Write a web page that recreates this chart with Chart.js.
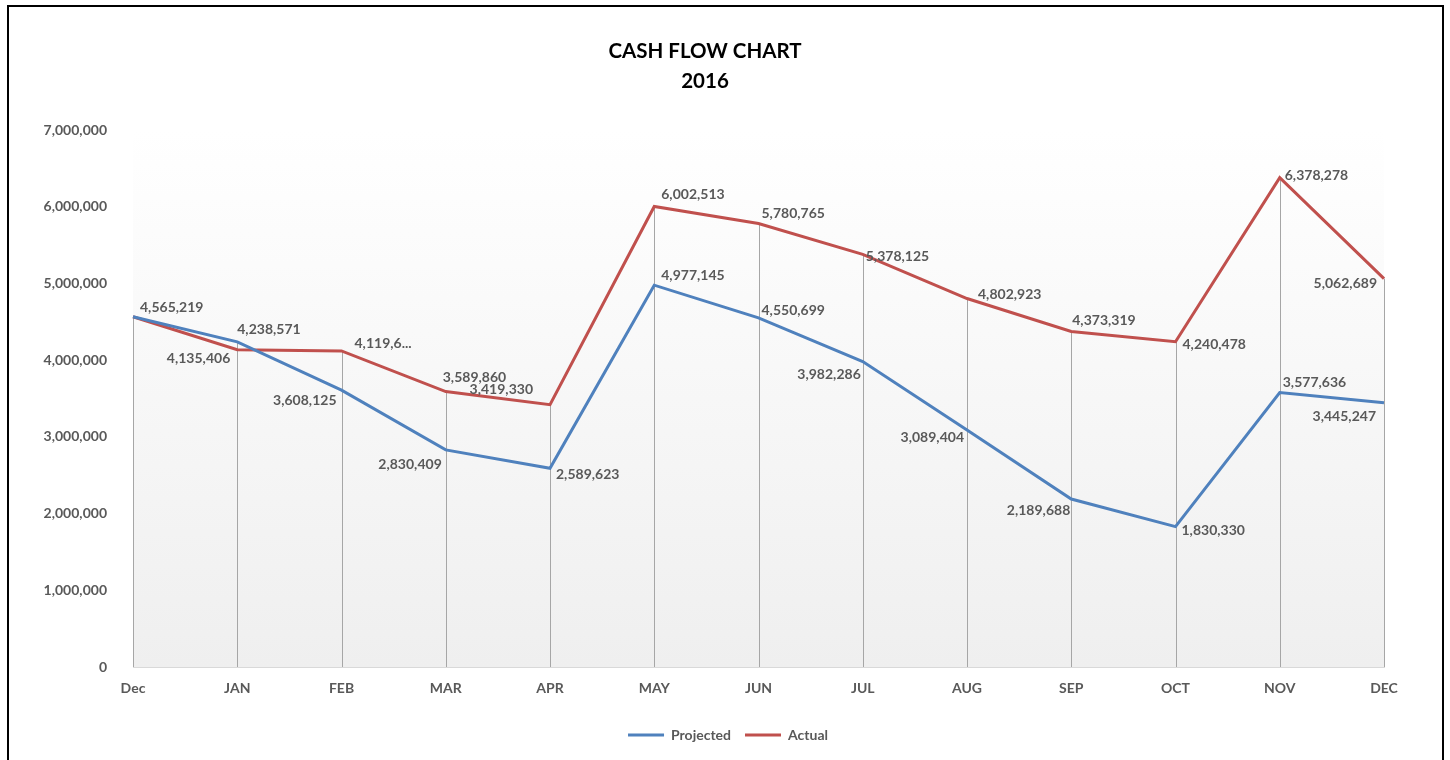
<!DOCTYPE html>
<html>
<head>
<meta charset="utf-8">
<script src="https://cdn.jsdelivr.net/npm/chart.js@4.4.1/dist/chart.umd.min.js"></script>
<style>
html, body { margin: 0; padding: 0; background: #fff; overflow: hidden; }
#wrap { position: relative; width: 1450px; height: 760px; }
#frame { position: absolute; left: 7px; top: 5px; width: 1437px; height: 820px; border: 2px solid #000; box-sizing: border-box; }
canvas { position: absolute; left: 0; top: 0; }
</style>
</head>
<body>
<div id="wrap">
  <div id="frame"></div>
  <canvas id="cashChart" width="1450" height="760"></canvas>
</div>
<script>
// data
var months = ['Dec', 'JAN', 'FEB', 'MAR', 'APR', 'MAY', 'JUN', 'JUL', 'AUG', 'SEP', 'OCT', 'NOV', 'DEC'];
var projected = [4565219, 4238571, 3608125, 2830409, 2589623, 4977145, 4550699, 3982286, 3089404, 2189688, 1830330, 3577636, 3445247];
var actual = [4565219, 4135406, 4119650, 3589860, 3419330, 6002513, 5780765, 5378125, 4802923, 4373319, 4240478, 6378278, 5062689];
var titleLines = ['CASH FLOW CHART', '2016'];

// label placement per point: [dx, dy, align, cut]; null = no label
var projectedLabelPos = [
    [7, -9, 'left'], [0, -12, 'left'], [-5, 10, 'right'], [-4, 15, 'right'], [6, 6, 'left'],
    [7, -10, 'left'], [3, -7, 'left'], [-2, 13, 'right'], [-3, 7, 'right'], [-1, 11, 'right'],
    [6, 4, 'left'], [3, -10, 'left'], [-8, 14, 'right']
];
var actualLabelPos = [
    null, [-7, 9, 'right'], [13, -7, 'left', 7], [-3, -14, 'left'], [-17, -15, 'right'],
    [7, -12, 'left'], [3, -10, 'left'], [3, 2, 'left'], [11, -4, 'left'], [1, -11, 'left'],
    [7, 3, 'left'], [5, -2, 'left'], [-7, 5, 'right']
];

var labelFont = 'bold 14px Lato';
var labelColor = '#595959';

function fmt(v) {
    return v.toLocaleString('en-US');
}

// plot area gradient fill
var plotBackground = {
    id: 'plotBackground',
    beforeDraw: function(chart) {
        var a = chart.chartArea, ctx = chart.ctx;
        var g = ctx.createLinearGradient(0, a.top, 0, a.bottom);
        g.addColorStop(0, '#ffffff');
        g.addColorStop(1, '#efefef');
        ctx.save();
        ctx.fillStyle = g;
        ctx.fillRect(a.left, a.top, a.right - a.left, a.bottom - a.top);
        ctx.restore();
    }
};

// legend sits a bit right of the centre in the original
var legendShift = {
    id: 'legendShift',
    afterLayout: function(chart) {
        chart.legend.left += 23;
        chart.legend.right += 23;
    }
};

// vertical drop lines from the highest point down to the axis
var dropLines = {
    id: 'dropLines',
    beforeDatasetsDraw: function(chart) {
        var ctx = chart.ctx, xs = chart.scales.x, ys = chart.scales.y;
        ctx.save();
        ctx.strokeStyle = '#a6a6a6';
        ctx.lineWidth = 1;
        months.forEach(function(m, i) {
            var px = Math.round(xs.getPixelForValue(i)) + 0.5;
            var top = Math.max(projected[i], actual[i]);
            ctx.beginPath();
            ctx.moveTo(px, ys.getPixelForValue(top));
            ctx.lineTo(px, chart.chartArea.bottom);
            ctx.stroke();
        });
        ctx.restore();
    }
};

// data labels
var pointLabels = {
    id: 'pointLabels',
    afterDatasetsDraw: function(chart) {
        var ctx = chart.ctx;
        var positions = [projectedLabelPos, actualLabelPos];
        ctx.save();
        ctx.font = labelFont;
        ctx.fillStyle = labelColor;
        ctx.textBaseline = 'middle';
        chart.data.datasets.forEach(function(ds, d) {
            var meta = chart.getDatasetMeta(d);
            meta.data.forEach(function(pt, i) {
                var p = positions[d][i];
                if (!p) return;
                var txt = fmt(ds.data[i]);
                if (p[3]) txt = txt.slice(0, p[3]) + '...';
                ctx.textAlign = p[2];
                ctx.fillText(txt, pt.x + p[0], pt.y + p[1]);
            });
        });
        ctx.restore();
    }
};

var chartTitle = {
    id: 'chartTitle',
    afterDraw: function(chart) {
        var ctx = chart.ctx;
        ctx.save();
        ctx.font = 'bold 20.5px Lato';
        ctx.fillStyle = '#000';
        ctx.textAlign = 'center';
        ctx.textBaseline = 'middle';
        ctx.fillText(titleLines[0], 705, 51);
        ctx.fillText(titleLines[1], 705, 81);
        ctx.restore();
    }
};

var ctx = document.getElementById('cashChart').getContext('2d');
var cashChart = new Chart(ctx, {
    type: 'line',
    data: {
        labels: months,
        datasets: [{
            label: 'Projected',
            data: projected,
            borderColor: '#4f81bd',
            backgroundColor: '#4f81bd',
            borderWidth: 3,
            pointRadius: 0,
            tension: 0,
            fill: false
        }, {
            label: 'Actual',
            data: actual,
            borderColor: '#c0504d',
            backgroundColor: '#c0504d',
            borderWidth: 3,
            pointRadius: 0,
            tension: 0,
            fill: false
        }]
    },
    options: {
        responsive: false,
        animation: false,
        devicePixelRatio: 1,
        layout: {
            padding: { left: 26, right: 66, top: 130, bottom: 8 }
        },
        scales: {
            x: {
                offset: false,
                grid: { display: false },
                border: { display: true, color: '#d9d9d9', width: 1 },
                ticks: {
                    padding: 5,
                    maxRotation: 0,
                    autoSkip: false,
                    color: labelColor,
                    font: { family: 'Lato', size: 14, weight: 'bold' }
                },
                afterFit: function(scale) { scale.height = 47; }
            },
            y: {
                min: 0,
                max: 7000000,
                grid: { display: false },
                border: { display: false },
                ticks: {
                    stepSize: 1000000,
                    padding: 18,
                    color: labelColor,
                    font: { family: 'Lato', size: 14, weight: 'bold' },
                    callback: function(v) { return fmt(v); }
                },
                afterFit: function(scale) { scale.width = 107; }
            }
        },
        plugins: {
            title: { display: false },
            tooltip: { enabled: false },
            legend: {
                position: 'bottom',
                labels: {
                    usePointStyle: true,
                    pointStyle: 'line',
                    pointStyleWidth: 36,
                    padding: 14,
                    color: labelColor,
                    font: { family: 'Lato', size: 14, weight: 'bold' }
                }
            }
        }
    },
    plugins: [plotBackground, legendShift, dropLines, pointLabels, chartTitle]
});
</script>
</body>
</html>
